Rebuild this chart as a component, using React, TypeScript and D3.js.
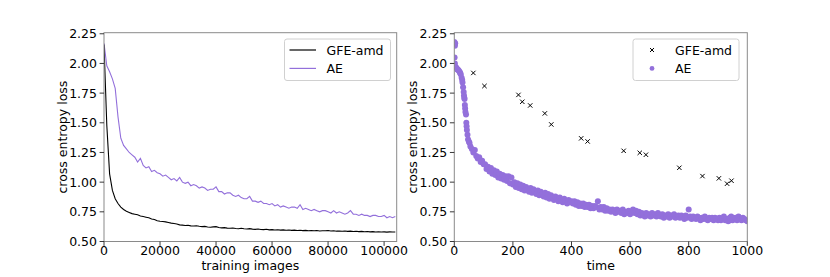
import React from "react";
import * as d3 from "d3";

// left panel: loss per 1000 training images (0 .. 104000)
const imagesStep = 1000;
const aeLineLoss = [
  2.17, 1.98, 1.93, 1.87, 1.79, 1.55, 1.37, 1.31, 1.28, 1.25,
  1.23, 1.21, 1.17, 1.2, 1.14, 1.12, 1.13, 1.09, 1.1, 1.08,
  1.07, 1.05, 1.06, 1.04, 1.02, 1.03, 1.01, 1.04, 1.0, 0.99,
  1.0, 0.97, 0.98, 0.97, 0.95, 0.96, 0.95, 0.93, 0.94, 0.94,
  0.96, 0.92, 0.92, 0.9, 0.91, 0.91, 0.89, 0.88, 0.89, 0.87,
  0.86, 0.86, 0.88, 0.84, 0.84, 0.83, 0.84, 0.82, 0.82, 0.81,
  0.82, 0.8, 0.81, 0.79, 0.8, 0.79, 0.78, 0.79, 0.79, 0.78,
  0.81, 0.77, 0.78, 0.77, 0.76, 0.77, 0.76, 0.75, 0.76, 0.76,
  0.75, 0.74, 0.76, 0.74, 0.75, 0.74, 0.73, 0.74, 0.76, 0.73,
  0.73, 0.72, 0.73, 0.72, 0.72, 0.71, 0.72, 0.72, 0.71, 0.71,
  0.72, 0.7, 0.71, 0.7, 0.71,
];
const gfeLineLoss = [
  2.16, 1.48, 1.07, 0.93, 0.86, 0.82, 0.79, 0.77, 0.755, 0.745,
  0.735, 0.73, 0.725, 0.715, 0.71, 0.705, 0.7, 0.69, 0.685, 0.675,
  0.67, 0.668, 0.665, 0.66, 0.655, 0.652, 0.648, 0.64, 0.638, 0.635,
  0.637, 0.632, 0.63, 0.633, 0.628, 0.625, 0.627, 0.622, 0.62, 0.623,
  0.625, 0.618, 0.615, 0.617, 0.613, 0.612, 0.614, 0.61, 0.608, 0.611,
  0.607, 0.605, 0.608, 0.604, 0.602, 0.605, 0.601, 0.6, 0.603, 0.598,
  0.6, 0.597, 0.599, 0.596, 0.598, 0.595, 0.597, 0.594, 0.596, 0.593,
  0.595, 0.592, 0.594, 0.591, 0.593, 0.59, 0.592, 0.589, 0.591, 0.59,
  0.592, 0.588, 0.59, 0.587, 0.589, 0.586, 0.588, 0.585, 0.587, 0.584,
  0.586, 0.583, 0.585, 0.582, 0.584, 0.581, 0.583, 0.58, 0.582, 0.58,
  0.581, 0.579, 0.581, 0.58, 0.58,
];

// right panel: AE loss every 5 time units (0 .. 1000) plus extra early points
const timeStep = 5;
const aeScatterLoss = [
  2.17,
  1.97, 1.95, 1.94, 1.92, 1.88, 1.8, 1.7, 1.57, 1.4, 1.34,
  1.3, 1.28, 1.25, 1.27, 1.22, 1.2, 1.21, 1.17, 1.18, 1.15,
  1.15, 1.11, 1.13, 1.09, 1.12, 1.07, 1.1, 1.06, 1.09, 1.04,
  1.07, 1.03, 1.06, 1.02, 1.05, 1.01, 1.05, 0.99, 1.04, 0.98,
  1.0, 0.96, 0.99, 0.95, 0.98, 0.94, 0.97, 0.93, 0.96, 0.94,
  0.92, 0.95, 0.91, 0.94, 0.92, 0.9, 0.93, 0.89, 0.92, 0.9,
  0.88, 0.91, 0.87, 0.9, 0.86, 0.89, 0.87, 0.85, 0.88, 0.86,
  0.84, 0.87, 0.85, 0.83, 0.86, 0.84, 0.82, 0.85, 0.83, 0.84,
  0.82, 0.84, 0.81, 0.83, 0.8, 0.82, 0.8, 0.82, 0.79, 0.81,
  0.79, 0.81, 0.78, 0.8, 0.78, 0.8, 0.79, 0.84, 0.77, 0.79,
  0.77, 0.79, 0.76, 0.78, 0.76, 0.77, 0.75, 0.77, 0.76, 0.74,
  0.77, 0.75, 0.76, 0.74, 0.77, 0.73, 0.75, 0.74, 0.76, 0.73,
  0.75, 0.77, 0.74, 0.76, 0.73, 0.75, 0.72, 0.74, 0.73, 0.71,
  0.74, 0.72, 0.73, 0.71, 0.74, 0.72, 0.73, 0.71, 0.74, 0.72,
  0.71, 0.73, 0.7, 0.72, 0.71, 0.73, 0.7, 0.72, 0.71, 0.73,
  0.7, 0.71, 0.72, 0.7, 0.72, 0.71, 0.69, 0.72, 0.7, 0.77,
  0.71, 0.69, 0.71, 0.7, 0.69, 0.71, 0.7, 0.68, 0.7, 0.69,
  0.71, 0.69, 0.68, 0.7, 0.69, 0.7, 0.68, 0.7, 0.69, 0.68,
  0.7, 0.68, 0.69, 0.71, 0.68, 0.69, 0.67, 0.7, 0.71, 0.68,
  0.69, 0.7, 0.68, 0.71, 0.69, 0.68, 0.7, 0.69, 0.68, 0.67,
];
const aeEarlyTimes = [0, 1, 2, 3, 1, 2, 8, 12, 18, 22, 27, 28, 32, 33, 34, 36, 37, 38, 41, 42, 43, 47, 52];
const aeEarlyLoss = [2.18, 2.16, 2.15, 2.17, 2.05, 2.0, 1.96, 1.95, 1.93, 1.91, 1.86, 1.84, 1.76, 1.73, 1.71, 1.65, 1.62, 1.59, 1.5, 1.47, 1.44, 1.36, 1.33];

const gfeTimes = [65, 103, 219, 232, 259, 309, 331, 433, 455, 578, 633, 654, 768, 847, 903, 931, 946];
const gfeLoss = [1.92, 1.81, 1.735, 1.677, 1.646, 1.579, 1.486, 1.369, 1.343, 1.264, 1.247, 1.231, 1.121, 1.051, 1.032, 0.987, 1.012];

const yTicks = [0.5, 0.75, 1.0, 1.25, 1.5, 1.75, 2.0, 2.25];
const imageTicks = [0, 20000, 40000, 60000, 80000, 100000];
const timeTicks = [0, 200, 400, 600, 800, 1000];
const seriesNames = ["GFE-amd", "AE"];

const purple = "#9370DB";
const font = "DejaVu Sans, sans-serif";
const fs = 12.5;

const top = 32.7;
const bottom = 241.5;
const y = d3.scaleLinear().domain([0.5, 2.259]).range([bottom, top]);

function Frame({ x, ticks, label, labelX }: any) {
  const [x0, x1] = x.range();
  return (
    <g fontFamily={font} fontSize={fs} fill="#000">
      <rect x={x0} y={top} width={x1 - x0} height={bottom - top} fill="none" stroke="#8a8a8a" strokeWidth={1} />
      {yTicks.map((t) => (
        <g key={"y" + t}>
          <line x1={x0 - 4.4} x2={x0} y1={y(t)} y2={y(t)} stroke="#222" strokeWidth={0.9} />
          <text x={x0 - 7} y={y(t)} dy="0.36em" textAnchor="end">{t.toFixed(2)}</text>
        </g>
      ))}
      {ticks.map((t: number) => (
        <g key={"x" + t}>
          <line x1={x(t)} x2={x(t)} y1={bottom} y2={bottom + 4.4} stroke="#222" strokeWidth={0.9} />
          <text x={x(t)} y={255.3} textAnchor="middle">{t}</text>
        </g>
      ))}
      <text x={(x0 + x1) / 2} y={270} textAnchor="middle">{label}</text>
      <text transform={`translate(${labelX},${(top + bottom) / 2}) rotate(-90)`} textAnchor="middle">cross entropy loss</text>
    </g>
  );
}

function Legend({ x0, kind }: any) {
  const rows = [50, 68.4];
  return (
    <g fontFamily={font} fontSize={fs}>
      <rect x={x0} y={39} width={106} height={41.5} rx={2.5} fill="#fff" fillOpacity={0.8} stroke="#d0d0d0" strokeWidth={1} />
      {seriesNames.map((name, i) => {
        const cy = rows[i];
        let handle;
        if (kind === "line") {
          handle = <line x1={x0 + 5} x2={x0 + 31.5} y1={cy} y2={cy} stroke={i === 0 ? "#000" : purple} strokeWidth={1.2} />;
        } else if (i === 0) {
          handle = <path d={`M${x0 + 17},${cy - 2}l4,4M${x0 + 17},${cy + 2}l4,-4`} stroke="#000" strokeWidth={1} />;
        } else {
          handle = <circle cx={x0 + 19} cy={cy} r={2.4} fill={purple} />;
        }
        return (
          <g key={name}>
            {handle}
            <text x={x0 + 42} y={cy} dy="0.36em">{name}</text>
          </g>
        );
      })}
    </g>
  );
}

export default function App() {
  const xImg = d3.scaleLinear().domain([0, 104500]).range([104, 396.7]);
  const xTime = d3.scaleLinear().domain([0, 1000]).range([454.3, 747.3]);

  const line = d3
    .line<number>()
    .x((_, i) => xImg(i * imagesStep))
    .y((d) => y(d));

  const aePoints = aeScatterLoss
    .map((v, i) => [i * timeStep, v])
    .concat(aeEarlyTimes.map((t, i) => [t, aeEarlyLoss[i]]));

  return (
    <svg width={830} height={277} style={{ position: "absolute", left: 0, top: 0, background: "#fff" }}>
      <defs>
        <clipPath id="clipL">
          <rect x={104} y={top} width={292.7} height={bottom - top} />
        </clipPath>
        <clipPath id="clipR">
          <rect x={454.3} y={top - 3} width={293} height={bottom - top + 6} />
        </clipPath>
      </defs>

      {/* left panel */}
      <g clipPath="url(#clipL)">
        <path d={line(aeLineLoss) || ""} fill="none" stroke={purple} strokeWidth={1.1} />
        <path d={line(gfeLineLoss) || ""} fill="none" stroke="#000" strokeWidth={1.1} />
      </g>
      <Frame x={xImg} ticks={imageTicks} label="training images" labelX={66.5} />
      <Legend x0={284.5} kind="line" />

      {/* right panel */}
      <g clipPath="url(#clipR)">
        {aePoints.map((p, i) => (
          <circle key={i} cx={xTime(p[0])} cy={y(p[1])} r={3} fill={purple} />
        ))}
        {gfeTimes.map((t, i) => {
          const cx = xTime(t);
          const cy = y(gfeLoss[i]);
          return <path key={"g" + i} d={`M${cx - 2.2},${cy - 2.2}L${cx + 2.2},${cy + 2.2}M${cx - 2.2},${cy + 2.2}L${cx + 2.2},${cy - 2.2}`} stroke="#000" strokeWidth={1} />;
        })}
      </g>
      <Frame x={xTime} ticks={timeTicks} label="time" labelX={417} />
      <Legend x0={633} kind="scatter" />
    </svg>
  );
}
